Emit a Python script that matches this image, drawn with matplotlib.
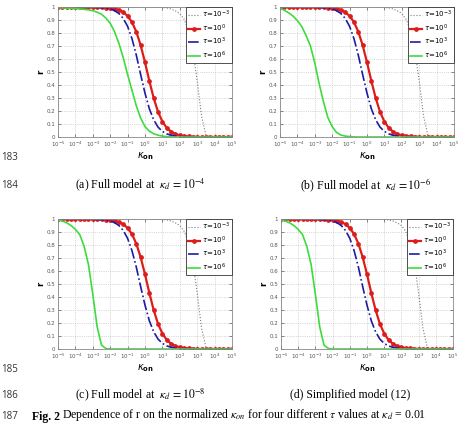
import numpy as np
import matplotlib.pyplot as plt
from matplotlib.ticker import NullLocator

# kappa_on sampling (log10 units), 0.25 decade step
log_kon = np.arange(-5, 5.01, 0.25)
kon = 10.0 ** log_kon

tau_labels = [r'$\tau$=10$^{-3}$', r'$\tau$=10$^{0}$', r'$\tau$=10$^{3}$', r'$\tau$=10$^{6}$']

# values
r_tau_m3 = [1.0, 1.0, 1.0, 1.0, 1.0, 1.0, 1.0, 1.0, 1.0, 1.0,
            1.0, 1.0, 1.0, 1.0, 1.0, 1.0, 1.0, 1.0, 1.0, 1.0,
            1.0, 1.0, 1.0, 0.999, 0.997, 0.993, 0.985, 0.97, 0.95, 0.905,
            0.82, 0.67, 0.43, 0.16, 0.015, 0.0, 0.0, 0.0, 0.0, 0.0, 0.0]
r_tau_0 = [1.0, 1.0, 1.0, 1.0, 1.0, 1.0, 1.0, 0.999, 0.999, 0.998,
           0.998, 0.996, 0.993, 0.987, 0.977, 0.96, 0.931, 0.884, 0.81, 0.706,
           0.574, 0.431, 0.299, 0.193, 0.119, 0.07, 0.041, 0.023, 0.013, 0.0075,
           0.004, 0.002, 0.001, 0.0, 0.0, 0.0, 0.0, 0.0, 0.0, 0.0, 0.0]
r_tau_3 = [1.0, 1.0, 1.0, 1.0, 1.0, 1.0, 1.0, 0.999, 0.999, 0.997,
           0.995, 0.992, 0.985, 0.972, 0.95, 0.912, 0.851, 0.757, 0.63, 0.48,
           0.337, 0.217, 0.132, 0.076, 0.043, 0.024, 0.013, 0.007, 0.004, 0.002,
           0.001, 0.0, 0.0, 0.0, 0.0, 0.0, 0.0, 0.0, 0.0, 0.0, 0.0]
r_tau_6_a = [0.995, 0.993, 0.991, 0.99, 0.988, 0.985, 0.982, 0.978, 0.972, 0.96,
             0.945, 0.915, 0.875, 0.81, 0.72, 0.61, 0.48, 0.36, 0.24, 0.145,
             0.08, 0.045, 0.025, 0.014, 0.007, 0.003, 0.001, 0.0, 0.0, 0.0,
             0.0, 0.0, 0.0, 0.0, 0.0, 0.0, 0.0, 0.0, 0.0, 0.0, 0.0]
r_tau_6_b = [0.99, 0.975, 0.955, 0.93, 0.895, 0.85, 0.78, 0.70, 0.57, 0.41,
             0.27, 0.15, 0.08, 0.035, 0.015, 0.007, 0.003, 0.001, 0.0, 0.0,
             0.0, 0.0, 0.0, 0.0, 0.0, 0.0, 0.0, 0.0, 0.0, 0.0,
             0.0, 0.0, 0.0, 0.0, 0.0, 0.0, 0.0, 0.0, 0.0, 0.0, 0.0]
r_tau_6_c = [0.995, 0.985, 0.97, 0.95, 0.92, 0.88, 0.79, 0.65, 0.42, 0.17,
             0.03, 0.004, 0.0, 0.0, 0.0, 0.0, 0.0, 0.0, 0.0, 0.0,
             0.0, 0.0, 0.0, 0.0, 0.0, 0.0, 0.0, 0.0, 0.0, 0.0,
             0.0, 0.0, 0.0, 0.0, 0.0, 0.0, 0.0, 0.0, 0.0, 0.0, 0.0]
r_tau_6_d = r_tau_6_c

captions = [r'(a) Full model at  $\kappa_d\,=10^{-4}$',
            r'(b) Full model at  $\kappa_d\,=10^{-6}$',
            r'(c) Full model at  $\kappa_d\,=10^{-8}$',
            '(d) Simplified model (12)']
greens = [r_tau_6_a, r_tau_6_b, r_tau_6_c, r_tau_6_d]

W, H = 467, 424
fig = plt.figure(figsize=(W / 100, H / 100), dpi=100)

# axes boxes in pixels: left, top, right, bottom
boxes = [(58, 7, 232, 137), (280, 7, 454, 137), (58, 219, 232, 349), (281, 219, 453, 349)]
cap_pos = [(140, 185), (366, 185), (140, 395), (350, 395)]

for box, green, cap, cp in zip(boxes, greens, captions, cap_pos):
    l, t, r, b = box
    ax = fig.add_axes([l / W, 1 - b / H, (r - l) / W, (b - t) / H])
    ax.plot(kon, r_tau_m3, ':', color='#7a7a7a', lw=0.8, label=tau_labels[0])
    ax.plot(kon, r_tau_0, '-', color='#dd1c1c', lw=1.6, marker='o', ms=2.4, label=tau_labels[1])
    ax.plot(kon, r_tau_3, '-.', color='#1c1ca8', lw=1.2, label=tau_labels[2])
    ax.plot(kon, green, '-', color='#3ddc3d', lw=1.2, label=tau_labels[3])

    ax.set_xscale('log')
    ax.set_xlim(1e-5, 1e5)
    ax.set_ylim(0, 1)
    ax.set_xticks(10.0 ** np.arange(-5, 6))
    ax.set_xticklabels([r'$10^{%d}$' % e for e in range(-5, 6)])
    ax.xaxis.set_minor_locator(NullLocator())
    ax.set_yticks(np.arange(0, 1.01, 0.1))
    ax.set_yticklabels(['0', '0.1', '0.2', '0.3', '0.4', '0.5', '0.6', '0.7', '0.8', '0.9', '1'])
    ax.tick_params(labelsize=4, length=2, width=0.5, direction='in', colors='#555555',
                   top=True, right=True, pad=2)
    ax.grid(True, ls=':', color='#b5b5b5', lw=0.5)
    for s in ax.spines.values():
        s.set_color('#888888')
        s.set_linewidth(0.6)
    ax.set_xlabel(r'$\kappa_{\mathbf{on}}$', fontsize=7, labelpad=1)
    ax.set_ylabel('r', fontsize=6, fontweight='bold', labelpad=1)

    leg = ax.legend(loc='upper right', fontsize=5, borderaxespad=0, fancybox=False,
                    edgecolor='#333333', framealpha=1, handlelength=1.7,
                    handletextpad=0.3, labelspacing=0.3, borderpad=0.3)
    leg.get_frame().set_linewidth(0.6)

    fig.text(cp[0] / W, 1 - cp[1] / H, cap, ha='center', va='center',
             family='Liberation Serif', fontsize=8.5, math_fontfamily='stix')

# line numbers of the page
for num, y in [('183', 158), ('184', 185), ('185', 370), ('186', 395)]:
    fig.text(1 / W, 1 - y / H, num, ha='left', va='center', fontsize=7,
             family='Open Sans', color='#333333')
fig.text(1 / W, 2 / H, '187', ha='left', va='bottom', fontsize=7,
         family='Open Sans', color='#333333')
fig.text(32 / W, 1 / H, 'Fig. 2', ha='left', va='bottom', fontsize=8.5,
         family='Liberation Serif', fontweight='bold')
fig.text(62 / W, 1 / H, 'Dependence of r on the normalized $\\kappa_{on}$ for four different $\\tau$ values at $\\kappa_d$ = 0.01',
         ha='left', va='bottom', fontsize=8.5, family='Liberation Serif', math_fontfamily='stix')

fig.savefig('out.png', dpi=100)
